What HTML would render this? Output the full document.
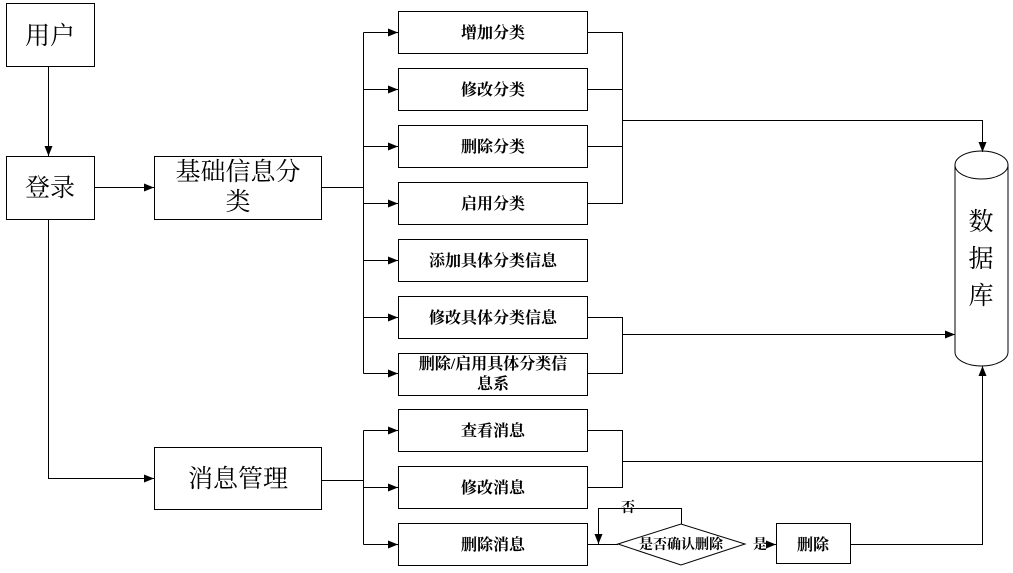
<!DOCTYPE html><html><head><meta charset="utf-8"><style>body{margin:0;background:#fff}text{font-family:"Liberation Serif","Noto Serif CJK SC",serif}</style></head><body>
<svg width="1013" height="568" xmlns="http://www.w3.org/2000/svg">
<defs><marker id="a" markerWidth="10" markerHeight="8" refX="10" refY="4" orient="auto" markerUnits="userSpaceOnUse"><path d="M0,0L10,4L0,8z" fill="#000"/></marker></defs>
<g fill="#fff" stroke="#000" stroke-width="1">
<rect x="6.5" y="3.5" width="88" height="63"/>
<rect x="6.5" y="156.5" width="88" height="63"/>
<rect x="154.5" y="156.5" width="167" height="63"/>
<rect x="154.5" y="447.5" width="167" height="62"/>
<rect x="398.5" y="11.5" width="189" height="42"/>
<rect x="398.5" y="68.5" width="189" height="42"/>
<rect x="398.5" y="125.5" width="189" height="42"/>
<rect x="398.5" y="182.5" width="189" height="42"/>
<rect x="398.5" y="239.5" width="189" height="42"/>
<rect x="398.5" y="296.5" width="189" height="42"/>
<rect x="398.5" y="353.5" width="189" height="42"/>
<rect x="398.5" y="409.5" width="189" height="42"/>
<rect x="398.5" y="466.5" width="189" height="42"/>
<rect x="398.5" y="523.5" width="189" height="42"/>
<rect x="776.5" y="523.5" width="74" height="40"/>
<path d="M618,544L681,524L745,544L681,565Z"/>
<path d="M955,165A26.5,14 0 0 1 1008,165V352A26.5,14 0 0 1 955,352Z"/>
<path d="M955,165A26.5,14 0 0 0 1008,165" fill="none"/>
</g>
<g stroke="#000" fill="none" stroke-width="1">
<path d="M48.5,66V156" marker-end="url(#a)"/>
<path d="M94,187.5H154" marker-end="url(#a)"/>
<path d="M48.5,219V478.5H154" marker-end="url(#a)"/>
<path d="M321,187.5H363.5M363.5,32.5V373.5"/>
<path d="M363.5,32.5H398" marker-end="url(#a)"/><path d="M363.5,89.5H398" marker-end="url(#a)"/><path d="M363.5,146.5H398" marker-end="url(#a)"/><path d="M363.5,203.5H398" marker-end="url(#a)"/><path d="M363.5,260.5H398" marker-end="url(#a)"/><path d="M363.5,317.5H398" marker-end="url(#a)"/><path d="M363.5,373.5H398" marker-end="url(#a)"/>
<path d="M321,480.5H363.5M363.5,430.5V544.5"/>
<path d="M363.5,430.5H398" marker-end="url(#a)"/><path d="M363.5,487.5H398" marker-end="url(#a)"/><path d="M363.5,544.5H398" marker-end="url(#a)"/>
<path d="M587,32.5H622.5V203.5H587M587,89.5H622.5M587,146.5H622.5"/>
<path d="M622.5,120.5H982.5V152" marker-end="url(#a)"/>
<path d="M587,317.5H622.5V373.5H587"/>
<path d="M622.5,334.5H955" marker-end="url(#a)"/>
<path d="M587,430.5H622.5V487.5H587M622.5,461.5H982.5"/>
<path d="M850,544.5H982.5V366" marker-end="url(#a)"/>
<path d="M587,544.5H618"/>
<path d="M681.5,524V508.5H598.5V544" marker-end="url(#a)"/>
<path d="M768,544.5H776" marker-end="url(#a)"/>
</g>
<g font-size="25" text-anchor="middle">
<text x="50" y="44">用户</text><text x="50" y="196">登录</text>
<text x="238" y="180">基础信息分</text><text x="238" y="210">类</text>
<text x="238" y="487">消息管理</text>
<text x="981" y="230">数</text><text x="981" y="267">据</text><text x="981" y="304">库</text>
</g>
<g font-size="16" text-anchor="middle" font-weight="bold">
<text x="493" y="38">增加分类</text><text x="493" y="95">修改分类</text><text x="493" y="152">删除分类</text><text x="493" y="209">启用分类</text>
<text x="493" y="266">添加具体分类信息</text><text x="493" y="323">修改具体分类信息</text>
<text x="493" y="369">删除/启用具体分类信</text><text x="493" y="389">息系</text>
<text x="493" y="436">查看消息</text><text x="493" y="493">修改消息</text><text x="493" y="550">删除消息</text>
<text x="813" y="550">删除</text>
</g>
<g font-size="14" font-weight="bold" text-anchor="middle">
<text x="681" y="549">是否确认删除</text><text x="628" y="512">否</text><text x="760" y="549">是</text>
</g>
</svg></body></html>
